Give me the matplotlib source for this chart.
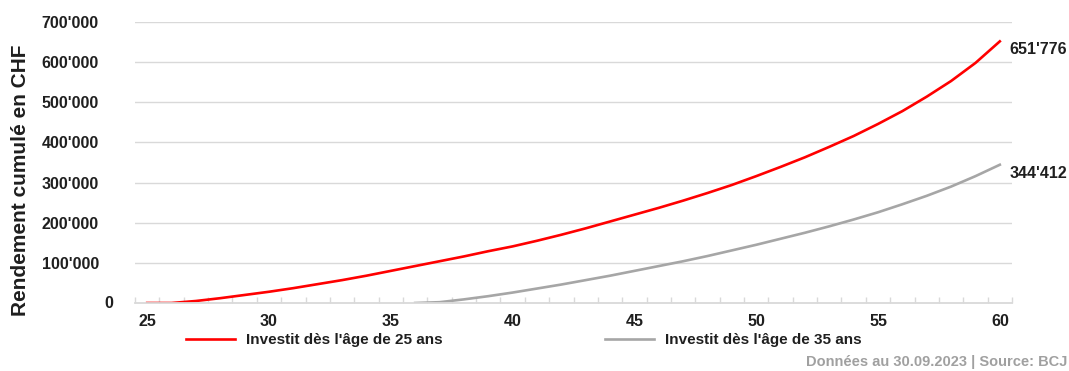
import matplotlib
matplotlib.use("Agg")
import matplotlib.pyplot as plt
from matplotlib.ticker import FuncFormatter, FixedLocator
from matplotlib.font_manager import FontProperties
from matplotlib.lines import Line2D

# cumulative return (CHF) by age, for the two starting ages
ages_25 = list(range(25, 61))
rend_25 = [0, 0, 5000, 12000, 20000, 28000, 37000, 47000, 57000, 68000,
           80000, 92000, 104000, 116000, 129000, 141000, 155000, 170000, 186000, 203000,
           220000, 237000, 255000, 274000, 294000, 316000, 339000, 363000, 389000, 416000,
           446000, 478000, 514000, 553000, 598000, 651776]

ages_35 = list(range(36, 61))
rend_35 = [0, 2000, 9000, 17000, 26000, 36000, 46000, 57000, 68000, 80000,
           92000, 104000, 117000, 131000, 145000, 160000, 175000, 191000, 208000, 226000,
           246000, 267000, 290000, 316000, 344412]

label_25 = "Investit dès l'âge de 25 ans"
label_35 = "Investit dès l'âge de 35 ans"
source = "Données au 30.09.2023 | Source: BCJ"

RED = "#ff0000"
GREY = "#a6a6a6"
TXT = "#1f1f1f"
LIGHT = "#d9d9d9"

plt.rcParams['font.family'] = ['Liberation Sans', 'DejaVu Sans']
plt.rcParams['font.weight'] = 'bold'


def swiss(v):
    return f"{v:,.0f}".replace(",", "'")


fig = plt.figure(figsize=(10.69, 3.71), dpi=100)
ax = fig.add_axes([135 / 1069, 68 / 371, 877 / 1069, 281 / 371])

ax.plot(ages_25, rend_25, color=RED, lw=1.9)
ax.plot(ages_35, rend_35, color=GREY, lw=1.9)

ax.set_xlim(24.5, 60.5)
ax.set_ylim(0, 700000)

ax.set_xticks(range(25, 61, 5))
ax.xaxis.set_minor_locator(FixedLocator([a - 0.5 for a in range(25, 62)]))
ax.tick_params(axis='x', which='major', length=0, pad=8, labelsize=11.5, labelcolor=TXT)
ax.tick_params(axis='x', which='minor', direction='in', length=4, width=1, color=LIGHT)

ax.set_yticks(range(100000, 700001, 100000))
ax.yaxis.set_major_formatter(FuncFormatter(lambda v, p: swiss(v)))
ax.tick_params(axis='y', length=0, pad=26, labelsize=11.5, labelcolor=TXT)
# the zero label sits closer to the axis than the others
ax.text(-22 / 877, 0, "0", transform=ax.get_yaxis_transform(),
        ha='right', va='center', fontsize=11.5, color=TXT)

ax.grid(axis='y', color=LIGHT, lw=1)
ax.set_axisbelow(True)
for s in ['top', 'right', 'left']:
    ax.spines[s].set_visible(False)
ax.spines['bottom'].set_color(LIGHT)
ax.spines['bottom'].set_linewidth(1.3)

# end-of-line values
for ages, vals in [(ages_25, rend_25), (ages_35, rend_35)]:
    ax.annotate(swiss(vals[-1]), xy=(ages[-1], vals[-1]), xytext=(7, -6),
                textcoords='offset points', ha='left', va='center',
                fontsize=11.5, color=TXT, annotation_clip=False)

fig.text(21 / 1069, 1 - 180 / 371, "Rendement cumulé en CHF", rotation=90,
         ha='center', va='center', fontsize=15, color=TXT)

handles = [Line2D([], [], color=RED, lw=1.9), Line2D([], [], color=GREY, lw=1.9)]
fig.legend(handles, [label_25, label_35], loc='center',
           bbox_to_anchor=(524 / 1069, 1 - 340 / 371), ncol=2, frameon=False,
           handlelength=3.2, handletextpad=0.75, columnspacing=10.6,
           prop=FontProperties(weight='bold', size=11),
           labelcolor=TXT)

fig.text(1067 / 1069, 1 - 362 / 371, source, ha='right', va='center',
         fontsize=10.5, color="#a0a0a0")

fig.savefig("out.png", dpi=100)
